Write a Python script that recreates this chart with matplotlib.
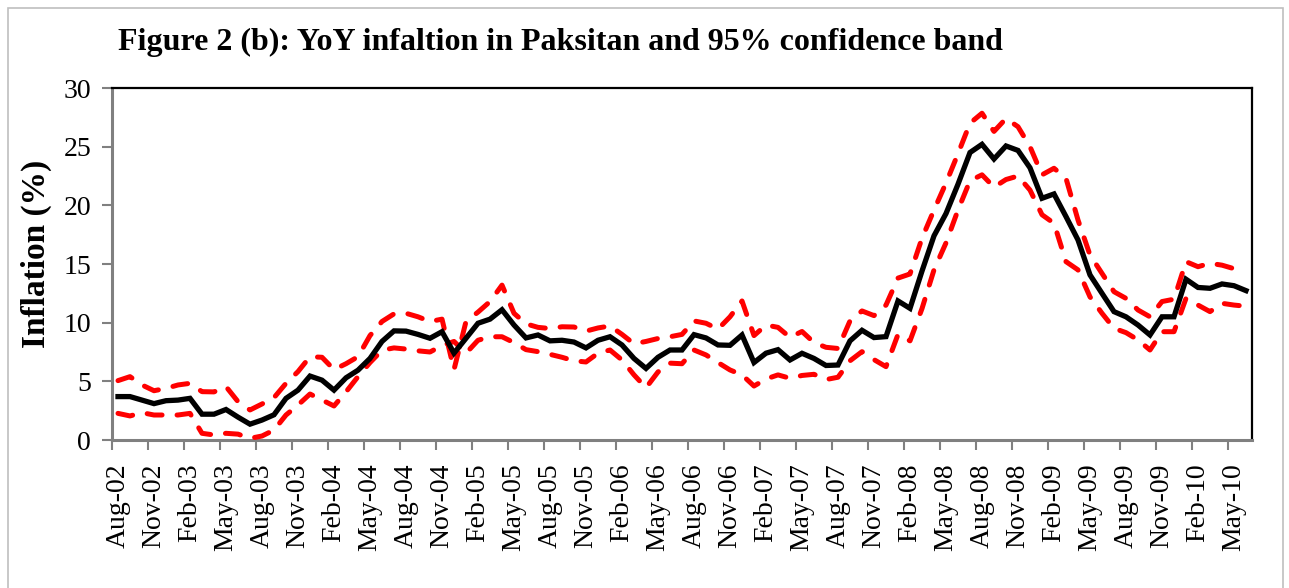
import numpy as np
import matplotlib
matplotlib.use("Agg")
import matplotlib.pyplot as plt
from matplotlib.patches import Rectangle

# ---------------- data (monthly, Aug-02 .. Jun-10) ----------------
inflation = [3.7, 3.7, 3.4, 3.1, 3.35, 3.4, 3.55, 2.2, 2.2, 2.6,
             1.95, 1.35, 1.7, 2.15, 3.55, 4.25, 5.45, 5.1, 4.25, 5.3,
             5.95, 6.95, 8.4, 9.3, 9.28, 9.0, 8.67, 9.23, 7.4, 8.67,
             9.95, 10.3, 11.1, 9.8, 8.7, 8.95, 8.45, 8.5, 8.35, 7.85,
             8.5, 8.8, 8.1, 6.95, 6.1, 7.05, 7.67, 7.67, 8.98, 8.7,
             8.1, 8.07, 8.95, 6.6, 7.4, 7.7, 6.82, 7.39, 6.95, 6.35,
             6.39, 8.45, 9.35, 8.73, 8.81, 11.85, 11.22, 14.4, 17.4, 19.3,
             21.8, 24.5, 25.2, 23.95, 25.06, 24.68, 23.2, 20.6, 20.97, 19.04,
             17.05, 14.07, 12.5, 10.94, 10.5, 9.8, 8.95, 10.5, 10.5, 13.7,
             13.0, 12.93, 13.3, 13.15, 12.73]

upper = [5.06, 5.4, 4.69, 4.2, 4.4, 4.69, 4.83, 4.12, 4.1, 4.55,
         3.27, 2.56, 3.07, 3.61, 4.83, 5.83, 7.1, 7.05, 6.0, 6.5,
         7.1, 8.9, 10.1, 10.75, 10.8, 10.5, 10.1, 10.3, 6.0, 10.1,
         10.9, 11.8, 13.2, 10.8, 9.9, 9.6, 9.5, 9.65, 9.63, 9.28,
         9.55, 9.72, 9.0, 8.2, 8.4, 8.65, 8.8, 9.0, 10.15, 9.95,
         9.45, 10.5, 11.85, 8.9, 9.8, 9.6, 8.75, 9.25, 8.3, 7.9,
         7.8, 10.15, 11.0, 10.6, 11.5, 13.8, 14.15, 17.2, 19.6, 21.9,
         24.4, 27.0, 27.85, 26.3, 27.4, 26.7, 25.0, 22.6, 23.16, 22.3,
         18.75, 15.77, 14.2, 12.64, 12.07, 11.08, 10.5, 11.8, 12.0, 15.2,
         14.77, 15.06, 14.9, 14.6, 14.35]

lower = [2.27, 2.05, 2.33, 2.13, 2.13, 2.13, 2.27, 0.57, 0.43, 0.57,
         0.5, 0.14, 0.34, 0.85, 2.13, 2.98, 3.92, 3.41, 2.9, 4.1,
         5.4, 6.6, 7.65, 7.85, 7.75, 7.6, 7.5, 8.05, 8.4, 7.39,
         8.5, 8.8, 8.8, 8.3, 7.7, 7.53, 7.3, 7.05, 6.75, 6.65,
         7.4, 7.67, 6.82, 5.55, 4.45, 5.8, 6.55, 6.5, 7.67, 7.25,
         6.6, 5.97, 5.55, 4.6, 5.2, 5.55, 5.26, 5.5, 5.6, 5.15,
         5.35, 6.75, 7.53, 6.85, 6.25, 9.0, 8.45, 11.2, 14.5, 16.8,
         19.6, 22.1, 22.6, 21.55, 22.2, 22.5, 21.3, 19.2, 18.47, 15.2,
         14.5, 12.2, 10.8, 9.52, 9.15, 8.53, 7.67, 9.23, 9.23, 12.07,
         11.5, 10.94, 11.65, 11.5, 11.4]

tick_labels = ["Aug-02", "Nov-02", "Feb-03", "May-03", "Aug-03", "Nov-03",
               "Feb-04", "May-04", "Aug-04", "Nov-04", "Feb-05", "May-05",
               "Aug-05", "Nov-05", "Feb-06", "May-06", "Aug-06", "Nov-06",
               "Feb-07", "May-07", "Aug-07", "Nov-07", "Feb-08", "May-08",
               "Aug-08", "Nov-08", "Feb-09", "May-09", "Aug-09", "Nov-09",
               "Feb-10", "May-10"]
y_ticks = [0, 5, 10, 15, 20, 25, 30]

title = "Figure 2 (b): YoY infaltion in Paksitan and 95% confidence band"
y_label = "Inflation (%)"

# ---------------- figure ----------------
W, H = 1289, 588
fig = plt.figure(figsize=(W / 100, H / 100), dpi=100)
serif = ["Liberation Serif", "DejaVu Serif"]

# outer chart-area border
fig.patches.append(Rectangle((8 / W, -0.05), (1283 - 8) / W, 1 - 8 / H + 0.05,
                             transform=fig.transFigure, fill=False,
                             edgecolor="#bfbfbf", linewidth=1.2))

ax = fig.add_axes([112 / W, 1 - 440 / H, (1252 - 112) / W, (440 - 88) / H])

x = np.arange(len(inflation))
ax.plot(x, upper, color="#ff0000", lw=3.6, dashes=(3, 3),
        dash_capstyle="round", solid_capstyle="round", zorder=3)
ax.plot(x, lower, color="#ff0000", lw=3.6, dashes=(3, 3),
        dash_capstyle="round", solid_capstyle="round", zorder=3)
ax.plot(x, inflation, color="black", lw=3.8, solid_joinstyle="miter", zorder=4)

n = len(inflation)
ax.set_xlim(-0.5, n - 0.5)
ax.set_ylim(0, 30)

label_pos = np.arange(0, 3 * len(tick_labels), 3)
ax.set_xticks(label_pos)
ax.set_xticklabels(tick_labels, rotation=90, family=serif, fontsize=20)
ax.tick_params(axis="x", which="major", length=0, pad=17)
ax.set_xticks(np.arange(-0.5, n, 3), minor=True)
ax.tick_params(axis="x", which="minor", length=7, width=1.5, color="#808080",
               direction="out")

ax.set_yticks(y_ticks)
ax.set_yticklabels([str(v) for v in y_ticks], family=serif, fontsize=20)
ax.tick_params(axis="y", length=7, width=1.5, color="#808080", direction="out",
               pad=8)

for s in ["top", "right"]:
    ax.spines[s].set_color("black")
    ax.spines[s].set_linewidth(1.6)
for s in ["left", "bottom"]:
    ax.spines[s].set_color("#808080")
    ax.spines[s].set_linewidth(2.2)

fig.text(118 / W, 1 - 42 / H, title, family=serif, fontsize=23,
         fontweight="bold", ha="left", va="center")
fig.text(36 / W, 1 - 254 / H, y_label, family=serif, fontsize=24,
         fontweight="bold", rotation=90, ha="center", va="center")

fig.savefig("out.png", dpi=100)
